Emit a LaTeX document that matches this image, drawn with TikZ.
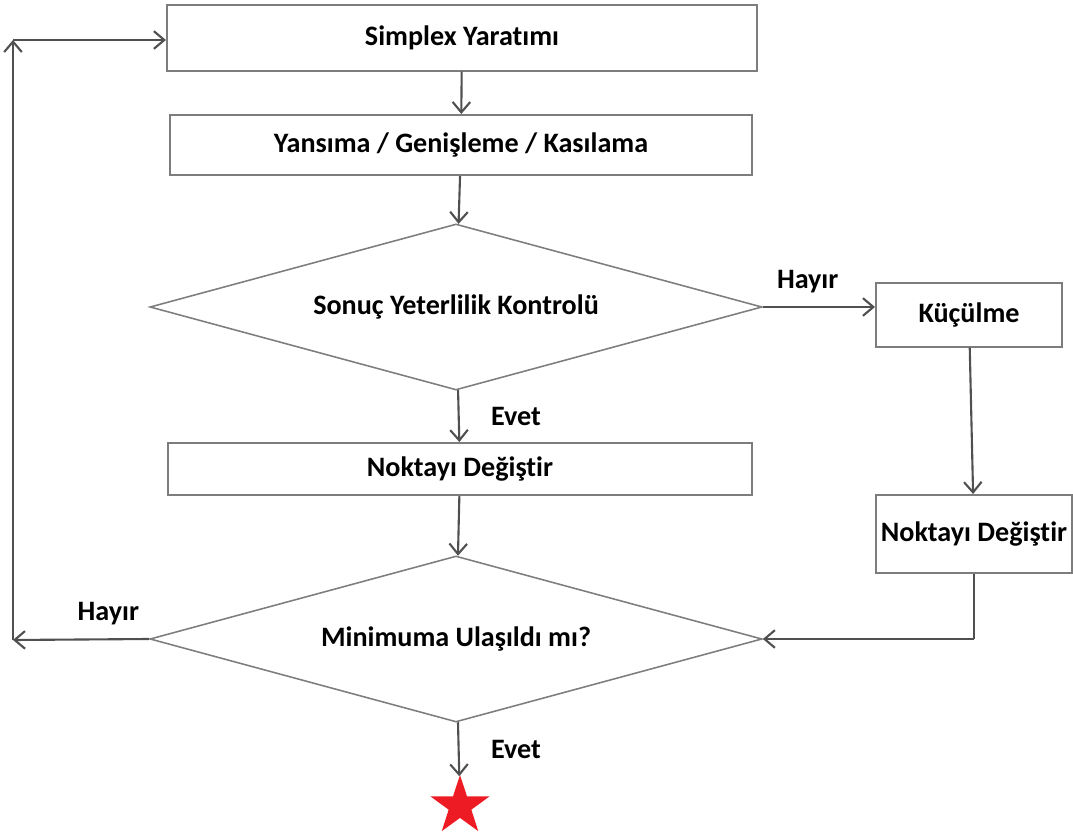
\documentclass[tikz,border=0pt]{standalone}
\usepackage{fontspec}
\setmainfont[Ligatures=NoCommon]{Carlito}
\usepackage{xcolor}
\usepackage{tikz}
\usetikzlibrary{shapes.geometric,arrows.meta}
\definecolor{boxgray}{RGB}{125,125,125}
\definecolor{linegray}{RGB}{80,80,80}
\definecolor{starred}{RGB}{237,28,36}

\begin{document}
\begin{tikzpicture}[x=0.025cm, y=-0.025cm, font=\fontsize{20}{24}\selectfont\bfseries]
    \tikzstyle{process} = [rectangle, draw=boxgray, line width=1.4pt, fill=white, text centered, inner sep=2pt]
    \tikzstyle{decision} = [diamond, shape aspect=3.7, draw=boxgray, line width=1.1pt, fill=white, inner sep=0pt, minimum width=15.3cm, minimum height=4.15cm]
    \tikzstyle{arrow} = [draw=linegray, line width=1.5pt, -{Straight Barb[length=2.6mm, width=4.4mm, line width=1.5pt]}]
    \tikzstyle{line} = [draw=linegray, line width=1.5pt]
    \useasboundingbox (0,0) rectangle (1073,834);

    % Main column
    \node [process, minimum width=14.75cm, minimum height=1.63cm] (simplex) at (462,38) {Simplex Yaratımı};
    \node [process, minimum width=14.55cm, minimum height=1.5cm] (yansima) at (461,145) {Yansıma / Genişleme / Kasılama};
    \node [decision] (yeterlilik) at (456,307) {Sonuç Yeterlilik Kontrolü};
    \node [process, minimum width=14.6cm, minimum height=1.3cm] (nokta) at (460,469) {Noktayı Değiştir};
    \node [decision] (minimum) at (456,639) {Minimuma Ulaşıldı mı?};
    \node [star, star points=5, star point ratio=2.6, fill=starred, inner sep=0pt, minimum size=1.55cm] (son) at (460,806) {};

    % Right column
    \node [process, minimum width=4.65cm, minimum height=1.58cm] (kucul) at (969,315) {Küçülme};
    \node [process, minimum width=4.9cm, minimum height=1.95cm] (nokta2) at (974,534) {Noktayı Değiştir};

    % Loop-back corners
    \coordinate (sol) at (13,640);
    \coordinate (ust) at (13,40);
    \coordinate (kose) at (nokta2.south |- minimum.east);

    % Arrows
    \draw [arrow] (simplex) -- (yansima);
    \draw [arrow] (yansima) -- (yeterlilik);
    \draw [arrow] (yeterlilik) -- node [right, xshift=19pt] {Evet} (nokta);
    \draw [arrow] (yeterlilik.east) -- node [above, xshift=-8pt, yshift=6pt] {Hayır} (kucul.west |- yeterlilik.east);
    \draw [arrow] (kucul) -- (nokta2);
    \draw [line] (nokta2.south) -- (kose);
    \draw [arrow] (kose) -- (minimum.east);
    \draw [arrow] (nokta) -- (minimum);
    \draw [arrow] (minimum.west) -- node [above, pos=0.3, yshift=6pt] {Hayır} (sol);
    \draw [arrow] (sol) -- (ust);
    \draw [arrow] (ust) -- (simplex.west |- ust);
    \draw [arrow] (minimum) -- node [right, xshift=19pt] {Evet} (son);
\end{tikzpicture}
\end{document}
